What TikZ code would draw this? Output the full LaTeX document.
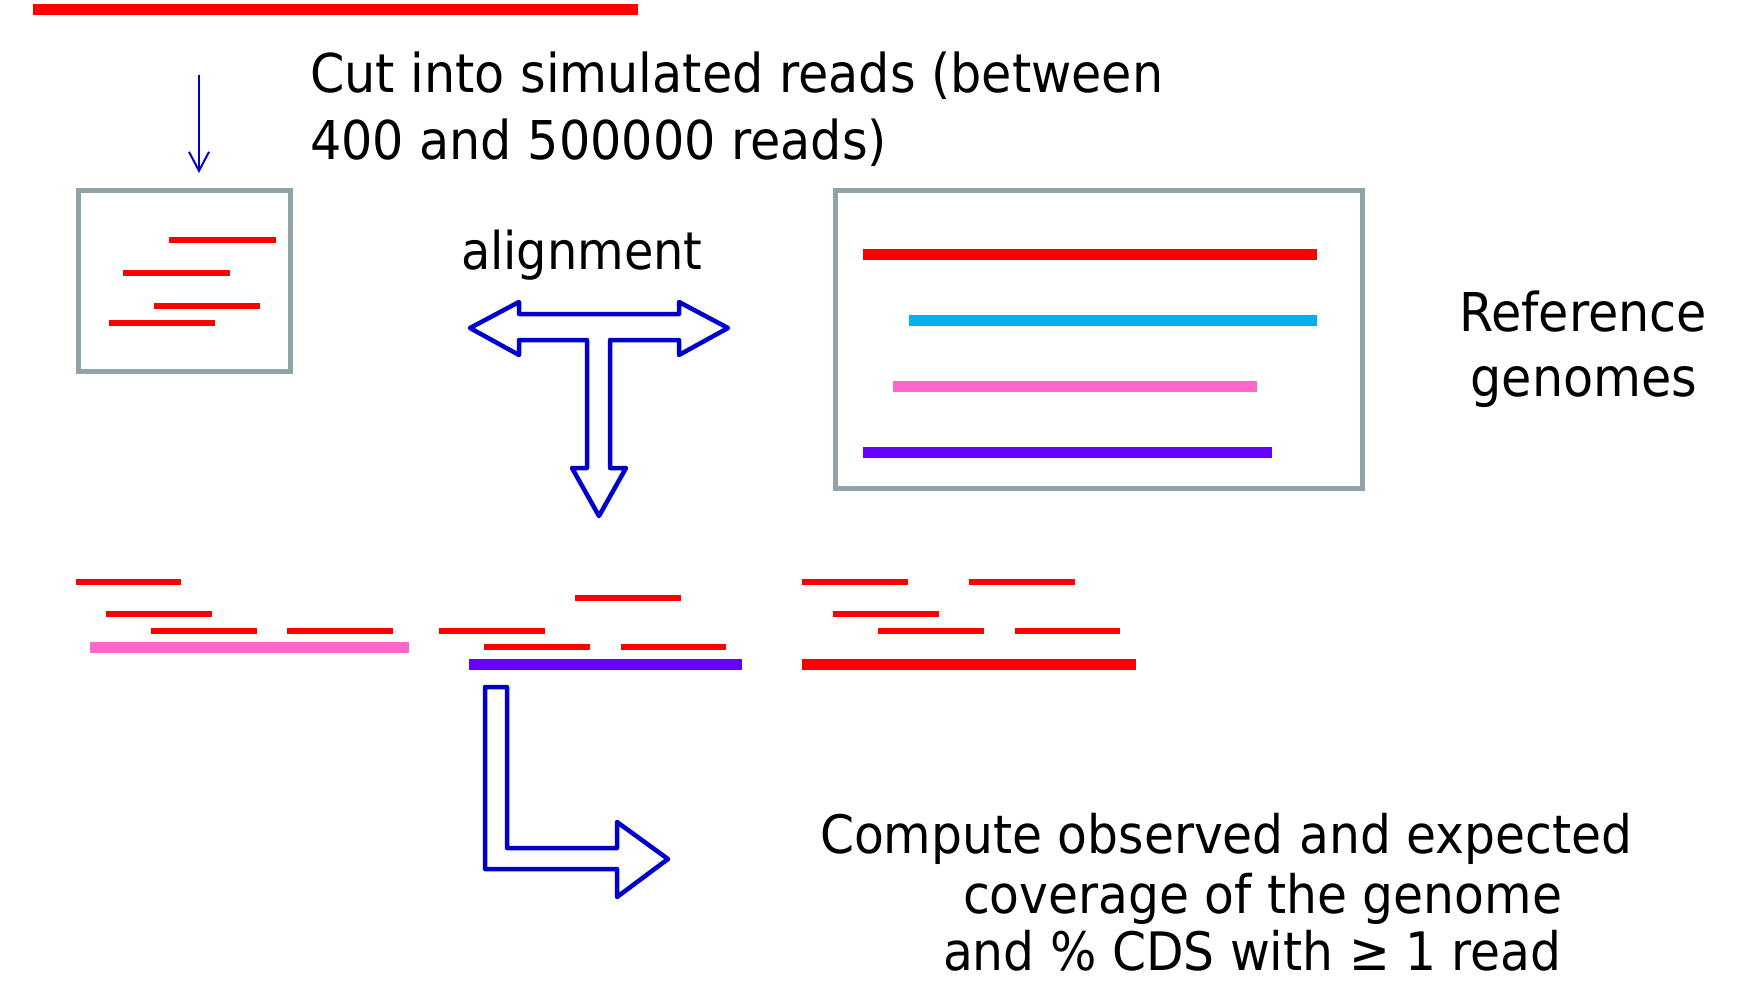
\documentclass[tikz,border=0pt]{standalone}
\usepackage{fontspec}
\setmainfont{DejaVu Sans}[FakeStretch=0.92]
\usetikzlibrary{arrows.meta}

\definecolor{readred}{RGB}{255,0,0}
\definecolor{genomecyan}{RGB}{0,176,240}
\definecolor{genomepink}{RGB}{255,102,204}
\definecolor{genomepurple}{RGB}{102,0,255}
\definecolor{framegray}{RGB}{143,164,167}
\definecolor{arrowblue}{RGB}{0,0,204}

\tikzset{
  read/.style={readred, line width=5.5pt},
  genome/.style={line width=11pt},
  frame/.style={draw=framegray, line width=5pt, inner sep=0pt, outer sep=0pt},
  blockarrow/.style={draw=arrowblue, line width=4.5pt, line join=round},
  caption/.style={inner sep=0pt, outer sep=0pt, text=black},
  bigtext/.style={caption, font=\fontsize{53.5}{64}\selectfont},
  midtext/.style={caption, font=\fontsize{52}{60}\selectfont},
  lowtext/.style={caption, font=\fontsize{53}{60}\selectfont},
}

\begin{document}
\begin{tikzpicture}[x=1pt, y=-1pt]
\useasboundingbox (0,0) rectangle (1763,980);

% source genome
\draw[readred, line width=11pt] (33,9) -- (638,9);

% cutting step
\coordinate (cutfrom) at (199,75);
\coordinate (cutto) at (199,173);
\draw[arrowblue, line width=2pt, -{Straight Barb[length=19pt, width=20pt, line width=2pt]}] (cutfrom) -- (cutto);
\node[bigtext, anchor=base west] (cut1) at (310,92) {Cut into simulated reads (between};
\node[bigtext, anchor=base west] (cut2) at (310,159) {400 and 500000 reads)};

% box of simulated reads
\node[frame, minimum width=211.5pt, minimum height=180.5pt] (readbox) at (184.25,280.75) {};
\draw[read] (169,240) -- (276,240);
\draw[read] (123,273) -- (230,273);
\draw[read] (154,306) -- (260,306);
\draw[read] (109,323) -- (215,323);

% alignment arrow
\node[midtext, anchor=base west] (align) at (461,269) {alignment};
\draw[blockarrow] (470,328) -- (519,302) -- (519,314) -- (679,314) -- (679,302)
  -- (728,328) -- (679,355) -- (679,340) -- (610,340) -- (610,468) -- (626,468)
  -- (599,516) -- (572,468) -- (587,468) -- (587,340) -- (519,340) -- (519,355) -- cycle;

% reference genomes
\node[frame, minimum width=527pt, minimum height=298pt] (refbox) at (1098.5,339.5) {};
\draw[genome, readred] (863,254) -- (1317,254);
\draw[genome, genomecyan] (909,320) -- (1317,320);
\draw[genome, genomepink] (893,386) -- (1257,386);
\draw[genome, genomepurple] (863,452) -- (1272,452);
\node[bigtext, anchor=base] (ref1) at (1583,331) {Reference};
\node[bigtext, anchor=base] (ref2) at (1584,396) {genomes};

% reads aligned on the first genome
\draw[read, line width=6pt] (76,582) -- (181,582);
\draw[read, line width=6pt] (106,614) -- (212,614);
\draw[read, line width=6pt] (151,631) -- (257,631);
\draw[read, line width=6pt] (287,631) -- (393,631);
\draw[genome, genomepink] (90,647) -- (409,647);

% reads aligned on the second genome
\draw[read, line width=6pt] (439,631) -- (545,631);
\draw[read, line width=6pt] (575,598) -- (681,598);
\draw[read, line width=6pt] (484,647) -- (590,647);
\draw[read, line width=6pt] (621,647) -- (726,647);
\draw[genome, genomepurple] (469,664) -- (742,664);

% reads aligned on the third genome
\draw[read, line width=6pt] (802,582) -- (908,582);
\draw[read, line width=6pt] (969,582) -- (1075,582);
\draw[read, line width=6pt] (833,614) -- (939,614);
\draw[read, line width=6pt] (878,631) -- (984,631);
\draw[read, line width=6pt] (1015,631) -- (1120,631);
\draw[genome, readred] (802,664) -- (1136,664);

% coverage step
\draw[blockarrow] (485,687) -- (507,687) -- (507,848) -- (617,848) -- (617,822)
  -- (668,859) -- (617,897) -- (617,869) -- (485,869) -- cycle;
\node[lowtext, anchor=base west] (out1) at (820,853) {Compute observed and expected};
\node[lowtext, anchor=base west] (out2) at (963,913) {coverage of the genome};
\node[lowtext, anchor=base west] (out3) at (943,970) {and \% CDS with ≥ 1 read};
\end{tikzpicture}
\end{document}
